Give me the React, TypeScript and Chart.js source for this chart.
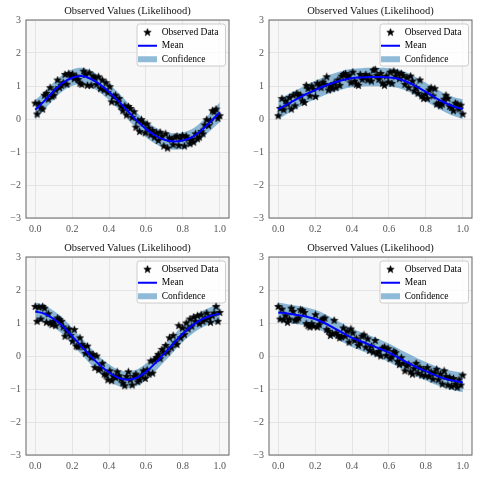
import React, { useEffect, useRef } from 'react';
import { Chart, registerables } from 'chart.js';

Chart.register(...registerables);

// ---------- data ----------
const TITLE = 'Observed Values (Likelihood)';
const LEGEND_LABELS = ['Observed Data', 'Mean', 'Confidence'];
const X_TICKS = [0, 0.2, 0.4, 0.6, 0.8, 1.0];
const Y_TICKS = [-3, -2, -1, 0, 1, 2, 3];

// x positions of the predictive mean / confidence region
const PRED_X = [0, 0.05, 0.1, 0.15, 0.2, 0.25, 0.3, 0.35, 0.4, 0.45, 0.5, 0.55, 0.6, 0.65, 0.7, 0.75, 0.8, 0.85, 0.9, 0.95, 1.0];

// observed values (100 evenly spaced points on [0, 1])
const OBS_1 = [0.48, 0.15, 0.47, 0.33, 0.30, 0.72, 0.78, 0.60, 0.95, 0.68, 0.72, 0.88, 1.18, 0.95, 1.02, 1.10, 1.35, 1.05, 1.38, 1.28,
  1.36, 1.22, 1.30, 1.20, 1.08, 1.05, 1.45, 1.35, 1.02, 1.40, 1.02, 1.30, 1.25, 1.05, 1.28, 0.92, 1.18, 0.88, 1.10, 0.80,
  0.98, 0.52, 0.68, 0.72, 0.50, 0.62, 0.38, 0.25, 0.40, 0.12, 0.38, 0.32, 0.05, 0.22, -0.25, -0.05, -0.38, -0.02, -0.12, -0.42,
  -0.15, -0.28, -0.48, -0.35, -0.55, -0.42, -0.65, -0.40, -0.52, -0.82, -0.45, -0.88, -0.58, -0.62, -0.78, -0.55, -0.52, -0.80, -0.58, -0.50,
  -0.82, -0.52, -0.60, -0.75, -0.62, -0.70, -0.45, -0.60, -0.55, -0.38, -0.45, -0.18, -0.02, -0.20, -0.05, 0.25, 0.22, 0.30, 0.02, 0.10];
const OBS_2 = [0.10, 0.32, 0.62, 0.28, 0.55, 0.45, 0.65, 0.30, 0.72, 0.40, 0.78, 0.70, 0.72, 0.55, 0.50, 1.02, 0.92, 0.70, 1.00, 0.90,
  0.68, 1.08, 1.02, 0.95, 1.12, 1.05, 1.28, 0.88, 1.00, 0.92, 1.08, 0.95, 1.18, 1.02, 1.30, 1.35, 1.38, 1.25, 1.32, 1.10,
  1.42, 1.15, 1.05, 1.02, 1.35, 1.20, 1.28, 1.35, 1.18, 1.30, 1.15, 1.48, 1.50, 1.32, 1.20, 1.38, 1.08, 1.02, 1.30, 1.12,
  1.42, 1.08, 1.45, 1.30, 1.40, 1.22, 1.38, 1.32, 1.05, 1.25, 0.95, 1.30, 1.15, 0.85, 0.95, 0.78, 1.18, 0.70, 0.62, 0.75,
  0.62, 0.88, 0.95, 0.70, 0.92, 0.45, 0.48, 0.40, 0.45, 0.60, 0.72, 0.62, 0.38, 0.35, 0.25, 0.48, 0.45, 0.30, 0.42, 0.15];
const OBS_3 = [1.50, 1.05, 1.48, 1.12, 1.50, 1.45, 1.02, 1.28, 1.00, 0.95, 1.05, 0.92, 1.15, 1.10, 1.05, 0.88, 0.60, 0.75, 0.82, 0.62,
  0.45, 0.80, 0.30, 0.28, 0.55, 0.35, 0.28, 0.08, 0.30, 0.10, -0.05, 0.05, -0.35, 0.00, -0.42, -0.38, -0.22, -0.55, -0.58, -0.72,
  -0.45, -0.75, -0.62, -0.65, -0.48, -0.60, -0.70, -0.82, -0.90, -0.62, -0.48, -0.72, -0.88, -0.62, -0.55, -0.78, -0.72, -0.60, -0.45, -0.68,
  -0.42, -0.55, -0.15, -0.52, -0.12, -0.05, 0.05, -0.08, 0.20, 0.10, 0.32, 0.12, 0.55, 0.25, 0.62, 0.40, 0.35, 0.92, 0.55, 0.85,
  0.65, 1.00, 0.82, 1.12, 0.90, 1.18, 1.05, 1.22, 0.98, 1.25, 1.05, 1.12, 1.30, 1.15, 1.02, 1.22, 1.30, 1.50, 1.05, 1.32];
const OBS_4 = [1.50, 1.12, 1.42, 1.10, 1.22, 1.02, 1.12, 1.45, 1.35, 1.08, 1.10, 1.15, 1.40, 1.38, 1.32, 0.98, 0.92, 0.88, 0.98, 0.90,
  1.25, 0.88, 0.95, 1.08, 1.12, 1.15, 0.80, 0.75, 0.62, 0.68, 1.08, 0.70, 0.62, 0.55, 0.58, 0.85, 0.60, 0.75, 0.42, 0.82,
  0.70, 0.47, 0.52, 0.32, 0.40, 0.60, 0.64, 0.27, 0.52, 0.17, 0.30, 0.12, 0.47, 0.07, 0.14, 0.00, 0.24, 0.27, 0.02, 0.22,
  -0.08, -0.03, 0.14, 0.10, -0.16, -0.26, -0.05, -0.22, -0.45, -0.30, -0.25, -0.48, -0.55, -0.38, -0.22, -0.52, -0.35, -0.58, -0.42, -0.60,
  -0.35, -0.62, -0.48, -0.70, -0.52, -0.40, -0.72, -0.55, -0.85, -0.45, -0.62, -0.88, -0.65, -0.92, -0.68, -0.85, -0.95, -0.72, -0.88, -0.58];

// predictive mean and confidence bounds at PRED_X
const MEAN_1 = [0.28, 0.55, 0.85, 1.10, 1.25, 1.30, 1.22, 1.05, 0.82, 0.55, 0.25, -0.05, -0.30, -0.50, -0.63, -0.68, -0.65, -0.55, -0.35, -0.08, 0.20];
const UPPER_1 = [0.58, 0.82, 1.11, 1.35, 1.50, 1.55, 1.47, 1.30, 1.07, 0.80, 0.50, 0.20, -0.05, -0.25, -0.38, -0.43, -0.40, -0.30, -0.09, 0.19, 0.50];
const LOWER_1 = [-0.02, 0.28, 0.59, 0.85, 1.00, 1.05, 0.97, 0.80, 0.57, 0.30, 0.00, -0.30, -0.55, -0.75, -0.88, -0.93, -0.90, -0.80, -0.61, -0.35, -0.10];

const MEAN_2 = [0.30, 0.45, 0.60, 0.75, 0.88, 1.00, 1.10, 1.18, 1.24, 1.26, 1.27, 1.27, 1.26, 1.22, 1.12, 0.98, 0.82, 0.65, 0.50, 0.38, 0.30];
const UPPER_2 = [0.60, 0.74, 0.88, 1.03, 1.16, 1.28, 1.38, 1.46, 1.52, 1.54, 1.55, 1.55, 1.54, 1.50, 1.40, 1.26, 1.10, 0.93, 0.78, 0.67, 0.60];
const LOWER_2 = [0.00, 0.16, 0.32, 0.47, 0.60, 0.72, 0.82, 0.90, 0.96, 0.98, 0.99, 0.99, 0.98, 0.94, 0.84, 0.70, 0.54, 0.37, 0.22, 0.09, 0.00];

const MEAN_3 = [1.35, 1.28, 1.12, 0.90, 0.60, 0.30, 0.00, -0.28, -0.50, -0.66, -0.72, -0.66, -0.48, -0.22, 0.08, 0.38, 0.68, 0.92, 1.10, 1.22, 1.28];
const UPPER_3 = [1.62, 1.54, 1.37, 1.15, 0.85, 0.55, 0.25, -0.03, -0.25, -0.41, -0.47, -0.41, -0.23, 0.03, 0.33, 0.63, 0.93, 1.17, 1.35, 1.48, 1.56];
const LOWER_3 = [1.08, 1.02, 0.87, 0.65, 0.35, 0.05, -0.25, -0.53, -0.75, -0.91, -0.97, -0.91, -0.73, -0.47, -0.17, 0.13, 0.43, 0.67, 0.85, 0.96, 1.00];

const MEAN_4 = [1.32, 1.29, 1.24, 1.20, 1.12, 1.00, 0.85, 0.70, 0.55, 0.44, 0.33, 0.22, 0.10, -0.05, -0.20, -0.34, -0.46, -0.58, -0.68, -0.75, -0.80];
const UPPER_4 = [1.62, 1.57, 1.52, 1.48, 1.40, 1.28, 1.13, 0.98, 0.83, 0.72, 0.61, 0.50, 0.38, 0.23, 0.08, -0.06, -0.18, -0.30, -0.40, -0.46, -0.50];
const LOWER_4 = [1.02, 1.01, 0.96, 0.92, 0.84, 0.72, 0.57, 0.42, 0.27, 0.16, 0.05, -0.06, -0.18, -0.33, -0.48, -0.62, -0.74, -0.86, -0.96, -1.04, -1.10];

// ---------- styles ----------
const W = 479;
const H = 478;
const FONT = "'Liberation Serif', 'DejaVu Serif', serif";
const BAND = 'rgba(31,119,180,0.5)';
const MEAN_COLOR = '#0000ff';
const PLOT_BG = '#f7f7f7';
const GRID = '#dedede';
const SPINE = '#666666';
const TICK_COLOR = '#555555';

let starCache: HTMLCanvasElement | null = null;
function starImage(): HTMLCanvasElement {
  if (starCache) return starCache;
  const c = document.createElement('canvas');
  c.width = 9;
  c.height = 9;
  const ctx = c.getContext('2d')!;
  const cx = 4.5, cy = 4.7, R = 3.9, r = R * 0.42;
  ctx.beginPath();
  for (let k = 0; k < 10; k++) {
    const rad = k % 2 === 0 ? R : r;
    const a = -Math.PI / 2 + (k * Math.PI) / 5;
    const px = cx + rad * Math.cos(a);
    const py = cy + rad * Math.sin(a);
    if (k === 0) ctx.moveTo(px, py); else ctx.lineTo(px, py);
  }
  ctx.closePath();
  ctx.fillStyle = '#000';
  ctx.fill();
  ctx.lineWidth = 0.6;
  ctx.strokeStyle = '#000';
  ctx.stroke();
  starCache = c;
  return c;
}

type Box = { L: number; T: number; R: number; B: number };

const panelPlugin = {
  id: 'panelDecor',
  beforeDraw(chart: any) {
    const { ctx, chartArea: a } = chart;
    ctx.save();
    ctx.fillStyle = PLOT_BG;
    ctx.fillRect(a.left, a.top, a.right - a.left, a.bottom - a.top);
    ctx.restore();
  },
  afterLayout(chart: any) {
    const lg = chart.legend;
    if (!lg) return;
    const a = chart.chartArea;
    const pad = lg.options.labels.padding;
    lg.left = a.right - 95;
    lg.top = a.top + 7.5 - pad;
    lg.right = lg.left + lg.width;
    lg.bottom = lg.top + lg.height;
    if (!lg._framed) {
      const orig = lg.draw.bind(lg);
      lg.draw = function (area: any) {
        const ca = chart.chartArea;
        const fx = ca.right - 92, fy = ca.top + 4, fw = 88.5, fh = 42, rr = 2.5;
        const c = chart.ctx;
        c.save();
        c.beginPath();
        c.moveTo(fx + rr, fy);
        c.lineTo(fx + fw - rr, fy);
        c.arcTo(fx + fw, fy, fx + fw, fy + rr, rr);
        c.lineTo(fx + fw, fy + fh - rr);
        c.arcTo(fx + fw, fy + fh, fx + fw - rr, fy + fh, rr);
        c.lineTo(fx + rr, fy + fh);
        c.arcTo(fx, fy + fh, fx, fy + fh - rr, rr);
        c.lineTo(fx, fy + rr);
        c.arcTo(fx, fy, fx + rr, fy, rr);
        c.closePath();
        c.fillStyle = 'rgba(255,255,255,0.8)';
        c.fill();
        c.lineWidth = 1;
        c.strokeStyle = '#cccccc';
        c.stroke();
        c.restore();
        orig(area);
      };
      lg._framed = true;
    }
  },
  afterDatasetsDraw(chart: any) {
    const { ctx, chartArea: a } = chart;
    ctx.save();
    ctx.strokeStyle = SPINE;
    ctx.lineWidth = 1;
    ctx.strokeRect(a.left, a.top, a.right - a.left, a.bottom - a.top);
    ctx.restore();
  },
};

function Panel(props: { obs: number[]; mean: number[]; upper: number[]; lower: number[]; box: Box }) {
  const ref = useRef<HTMLCanvasElement>(null);
  useEffect(() => {
    const { obs, mean, upper, lower, box } = props;
    const star = starImage();
    const n = obs.length;
    const obsPts = obs.map((y, i) => ({ x: i / (n - 1), y }));
    const meanPts = PRED_X.map((x, i) => ({ x, y: mean[i] }));
    const upPts = PRED_X.map((x, i) => ({ x, y: upper[i] }));
    const loPts = PRED_X.map((x, i) => ({ x, y: lower[i] }));
    const yAxisW = 26;
    const xAxisH = 20;
    const titleFont = 10.5;
    const titleTop = box.T - 9 - titleFont * 0.6;
    const titlePadBottom = box.T - titleTop - titleFont * 1.2;

    const chart = new Chart(ref.current!, {
      type: 'line',
      data: {
        datasets: [
          {
            label: LEGEND_LABELS[1],
            data: meanPts,
            borderColor: MEAN_COLOR,
            borderWidth: 2,
            pointRadius: 0,
            tension: 0.35,
            fill: false,
          },
          {
            label: LEGEND_LABELS[0],
            data: obsPts,
            showLine: false,
            pointStyle: star as any,
            pointRadius: 4,
            borderColor: '#000',
            backgroundColor: '#000',
          },
          {
            label: 'lower',
            data: loPts,
            borderColor: 'rgba(0,0,0,0)',
            borderWidth: 0,
            pointRadius: 0,
            tension: 0.35,
            fill: false,
          },
          {
            label: LEGEND_LABELS[2],
            data: upPts,
            borderColor: 'rgba(0,0,0,0)',
            borderWidth: 0,
            pointRadius: 0,
            tension: 0.35,
            fill: '-1',
            backgroundColor: BAND,
          },
        ] as any,
      },
      options: {
        responsive: false,
        animation: false,
        events: [],
        layout: {
          padding: {
            left: box.L - yAxisW,
            right: W - box.R,
            top: titleTop,
            bottom: H - box.B - xAxisH,
          },
        },
        scales: {
          x: {
            type: 'linear',
            min: -0.05,
            max: 1.05,
            afterBuildTicks: (s: any) => {
              s.ticks = X_TICKS.map((v) => ({ value: v }));
            },
            afterFit: (s: any) => {
              s.height = xAxisH;
            },
            grid: { color: GRID, lineWidth: 0.8, drawTicks: false },
            border: { display: false },
            ticks: {
              padding: 5,
              color: TICK_COLOR,
              autoSkip: false,
              maxRotation: 0,
              font: { family: FONT, size: 10 },
              callback: (v: any) => Number(v).toFixed(1),
            },
          },
          y: {
            type: 'linear',
            min: -3,
            max: 3,
            afterBuildTicks: (s: any) => {
              s.ticks = Y_TICKS.map((v) => ({ value: v }));
            },
            afterFit: (s: any) => {
              s.width = yAxisW;
            },
            grid: { color: GRID, lineWidth: 0.8, drawTicks: false },
            border: { display: false },
            ticks: {
              padding: 5,
              color: TICK_COLOR,
              font: { family: FONT, size: 10 },
              callback: (v: any) => (Number(v) < 0 ? '\u2212' + Math.abs(Number(v)) : String(v)),
            },
          },
        },
        plugins: {
          title: {
            display: true,
            text: TITLE,
            fullSize: false,
            color: '#111',
            font: { family: FONT, size: titleFont, weight: 'normal', lineHeight: 1.2 },
            padding: { top: 0, bottom: titlePadBottom },
          },
          tooltip: { enabled: false },
          legend: {
            display: true,
            position: 'chartArea',
            align: 'start',
            labels: {
              usePointStyle: true,
              pointStyleWidth: 19,
              boxHeight: 6,
              padding: 4,
              color: '#111',
              font: { family: FONT, size: 9.5 },
              generateLabels: () => [
                {
                  text: LEGEND_LABELS[0],
                  pointStyle: star,
                  fillStyle: '#000',
                  strokeStyle: '#000',
                  lineWidth: 0,
                  hidden: false,
                  datasetIndex: 1,
                },
                {
                  text: LEGEND_LABELS[1],
                  pointStyle: 'line',
                  fillStyle: MEAN_COLOR,
                  strokeStyle: MEAN_COLOR,
                  lineWidth: 2,
                  hidden: false,
                  datasetIndex: 0,
                },
                {
                  text: LEGEND_LABELS[2],
                  pointStyle: 'rect',
                  fillStyle: BAND,
                  strokeStyle: 'rgba(0,0,0,0)',
                  lineWidth: 0,
                  hidden: false,
                  datasetIndex: 3,
                },
              ] as any,
            },
          },
        },
      } as any,
      plugins: [panelPlugin],
    });
    return () => chart.destroy();
  }, []);
  return (
    <canvas
      ref={ref}
      width={W}
      height={H}
      style={{ position: 'absolute', left: 0, top: 0, width: W, height: H }}
    />
  );
}

export default function App() {
  return (
    <div style={{ position: 'fixed', left: 0, top: 0, width: W, height: H, background: '#ffffff' }}>
      <Panel obs={OBS_1} mean={MEAN_1} upper={UPPER_1} lower={LOWER_1} box={{ L: 26, T: 20, R: 229, B: 218 }} />
      <Panel obs={OBS_2} mean={MEAN_2} upper={UPPER_2} lower={LOWER_2} box={{ L: 269, T: 20, R: 472, B: 218 }} />
      <Panel obs={OBS_3} mean={MEAN_3} upper={UPPER_3} lower={LOWER_3} box={{ L: 26, T: 257, R: 229, B: 455 }} />
      <Panel obs={OBS_4} mean={MEAN_4} upper={UPPER_4} lower={LOWER_4} box={{ L: 269, T: 257, R: 472, B: 455 }} />
    </div>
  );
}
